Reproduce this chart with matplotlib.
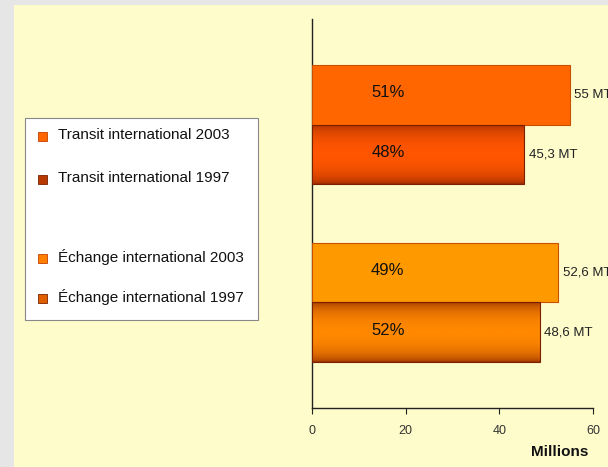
import matplotlib.pyplot as plt
import numpy as np
from matplotlib.patches import Rectangle
from matplotlib.colors import LinearSegmentedColormap

plt.rcParams['font.family'] = ['Liberation Sans', 'DejaVu Sans']
NARROW = ['Liberation Sans Narrow', 'Liberation Sans', 'DejaVu Sans']

# data
groups = ['Transit international', 'Échange international']
values_2003 = [55, 52.6]
values_1997 = [45.3, 48.6]
labels_2003 = ['55 MT', '52,6 MT']
labels_1997 = ['45,3 MT', '48,6 MT']
shares_2003 = ['51%', '49%']
shares_1997 = ['48%', '52%']
legend_labels = ['Transit international 2003', 'Transit international 1997',
                 'Échange international 2003', 'Échange international 1997']
xticks = [0, 20, 40, 60]

flat_colors = ['#FF6600', '#FF9900']
grad_centers = ['#FF5500', '#FF8800']
grad_dark = '#8A2400'

fig = plt.figure(figsize=(6.08, 4.67), dpi=100)
fig.patch.set_facecolor('#E6E6E6')
fig.add_artist(Rectangle((14 / 608, 0), 1, 462 / 467, transform=fig.transFigure,
                         facecolor='#FEFCCB', edgecolor='none', zorder=0))

ax = fig.add_axes([312 / 608, 59 / 467, 281 / 608, 389 / 467])
ax.set_facecolor('none')

h = 0.337
y = np.arange(len(groups))
bars03 = ax.barh(y - h / 2, values_2003, height=h, color=flat_colors,
                 edgecolor='#C85000', linewidth=0.8, zorder=3)
bars97 = ax.barh(y + h / 2, values_1997, height=h, color='none',
                 edgecolor='#7A2000', linewidth=0.8, zorder=4)

# vertical gradients on 1997 bars
t = np.linspace(0, 1, 200)
prof = np.sin(np.pi * t) ** 0.4
for bar, c in zip(bars97, grad_centers):
    cmap = LinearSegmentedColormap.from_list('g', [grad_dark, c])
    x0, y0 = bar.get_x(), bar.get_y()
    w, hh = bar.get_width(), bar.get_height()
    im = ax.imshow(prof[:, None], cmap=cmap, vmin=0, vmax=1, aspect='auto',
                   extent=(x0, x0 + w, y0 + hh, y0), zorder=3)
    im.set_clip_path(bar)

ax.set_xlim(0, 60)
ax.set_ylim(1 + 0.593, -0.593)
ax.set_xticks(xticks)
ax.set_xticklabels([str(v) for v in xticks], fontsize=9, color='#333333')
ax.tick_params(axis='x', length=4, width=0.8, pad=8, color='#222222')
ax.set_yticks([])
for s in ['top', 'right']:
    ax.spines[s].set_visible(False)
for s in ['left', 'bottom']:
    ax.spines[s].set_color('#222222')
    ax.spines[s].set_linewidth(1.0)

for i in range(len(groups)):
    ax.text(values_2003[i] + 1.0, y[i] - h / 2, labels_2003[i], va='center',
            ha='left', fontsize=9.5, color='#222222', family=NARROW)
    ax.text(values_1997[i] + 1.0, y[i] + h / 2, labels_1997[i], va='center',
            ha='left', fontsize=9.5, color='#222222', family=NARROW)
    ax.text(16.2, y[i] - h / 2 - 0.01, shares_2003[i], va='center', ha='center',
            fontsize=12, color='#111111', zorder=5, family=NARROW)
    ax.text(16.2, y[i] + h / 2 - 0.01, shares_1997[i], va='center', ha='center',
            fontsize=12, color='#111111', zorder=5, family=NARROW)

fig.text(588 / 608, 1 - 452 / 467, 'Millions', ha='right', va='center',
         fontsize=11, fontweight='bold', color='#111111')

# legend box
fig.add_artist(Rectangle((25 / 608, 1 - 320 / 467), 233 / 608, 202 / 467,
                         transform=fig.transFigure, facecolor='white',
                         edgecolor='#888888', linewidth=0.8, zorder=2))
leg_y = [135, 178, 257, 297]
leg_colors = ['#FF6600', '#B83A00', '#FF8000', '#E06000']
leg_edges = ['#C04000', '#7A2000', '#C04000', '#7A2000']
for yy, lab, c, e in zip(leg_y, legend_labels, leg_colors, leg_edges):
    fig.add_artist(Rectangle((38 / 608, 1 - (yy + 6) / 467), 9 / 608, 9 / 467,
                             transform=fig.transFigure, facecolor=c,
                             edgecolor=e, linewidth=0.6, zorder=3))
    fig.text(58 / 608, 1 - yy / 467, lab, ha='left', va='center',
             fontsize=11, color='#111111', zorder=3, family=NARROW)

fig.savefig('out.png', dpi=100)
plt.close(fig)
